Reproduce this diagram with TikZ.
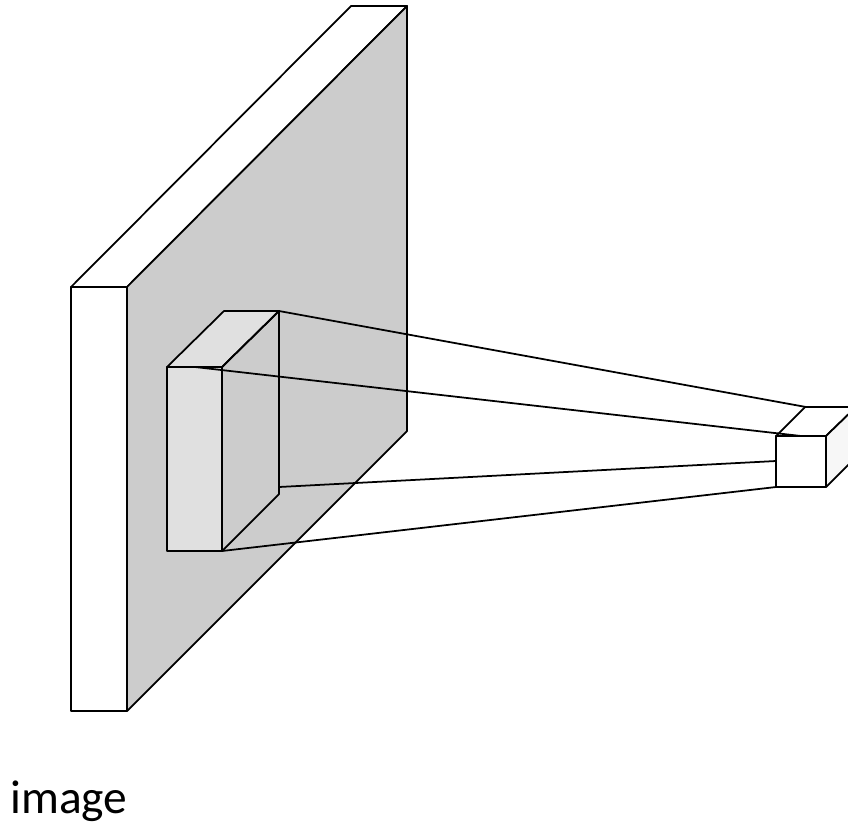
\documentclass[tikz,border=0pt]{standalone}
\usepackage{fontspec}
\setmainfont{Carlito}
\definecolor{plategray}{HTML}{CCCCCC}
\definecolor{patchgray}{HTML}{E0E0E0}
\definecolor{cubeside}{HTML}{F7F7F7}
\usetikzlibrary{positioning}
\tikzset{edge/.style={line width=1.0pt,line join=round}}
\begin{document}
\begin{tikzpicture}[x=0.02cm,y=-0.02cm]
    \clip (0,0) rectangle (848,825);
    % image plate
    \draw[edge,fill=white] (71,287) rectangle (127,711);
    \draw[edge,fill=white] (71,287) -- (351,6) -- (407,6) -- (127,287) -- cycle;
    \draw[edge,fill=plategray] (127,287) -- (407,6) -- (407,431) -- (127,711) -- cycle;
    % receptive patch
    \coordinate (patchtop) at (195,367);
    \coordinate (patchback) at (279,311);
    \coordinate (patchmid) at (279,487);
    \coordinate (patchfoot) at (222,551);
    \draw[edge,fill=patchgray] (167,367) rectangle (222,551);
    \draw[edge,fill=patchgray] (167,367) -- (224,311) -- (279,311) -- (222,367) -- cycle;
    \draw[edge] (222,367) -- (279,311) -- (279,494) -- (222,551);
    % output cube
    \coordinate (cubetop) at (801,436);
    \coordinate (cubeback) at (806,407);
    \coordinate (cubemid) at (776,461);
    \coordinate (cubefoot) at (776,487);
    \draw[edge,fill=white] (776,436) -- (805,407) -- (856,407) -- (826,436) -- cycle;
    \draw[edge,fill=cubeside] (826,436) -- (856,407) -- (856,457) -- (826,487) -- cycle;
    \draw[edge,fill=white] (776,436) rectangle (826,487);
    % connectors
    \draw[edge] (patchback) -- (cubeback);
    \draw[edge] (patchtop) -- (cubetop);
    \draw[edge] (patchmid) -- (cubemid);
    \draw[edge] (patchfoot) -- (cubefoot);
    \node[anchor=base west,inner sep=0pt,font=\fontsize{27}{31}\selectfont] (imagelabel) at (10,813) {image};
\end{tikzpicture}
\end{document}
